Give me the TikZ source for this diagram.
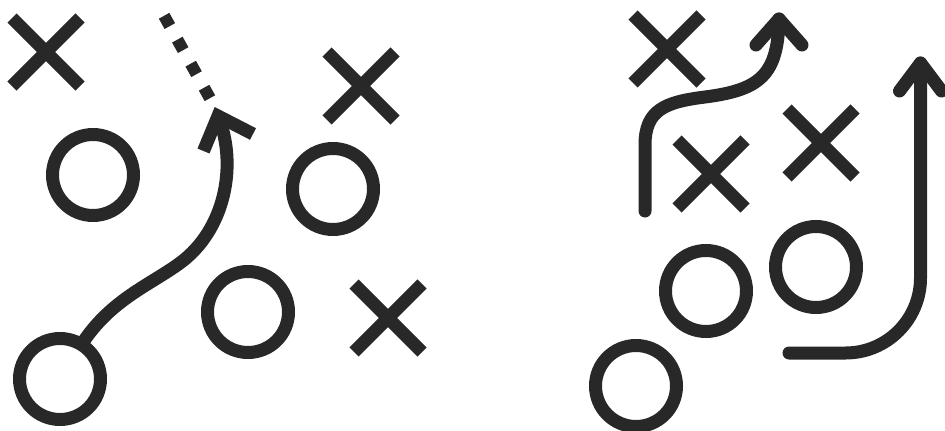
\documentclass[tikz,border=0pt]{standalone}
\usetikzlibrary{shapes.misc}
\definecolor{ink}{RGB}{40,40,40}
\begin{document}
\begin{tikzpicture}[x=1pt,y=-1pt,
  ring/.style={circle,draw=ink,line width=13pt,minimum size=81pt,inner sep=0pt,outer sep=0pt},
  cross/.style={cross out,draw=ink,line width=13pt,minimum size=68pt,inner sep=0pt,outer sep=0pt},
  sharpline/.style={draw=ink,line width=13pt,line cap=butt,line join=miter},
  roundline/.style={draw=ink,line width=13pt,line cap=round,line join=round},
  dotline/.style={draw=ink,line width=12pt,line cap=butt,dash pattern=on 12pt off 15.5pt}]
\useasboundingbox (0,0) rectangle (945,431);
\clip (0,0) rectangle (945,431);
% left play
\node[cross] (x1) at (46,52) {};
\node[cross] (x2) at (361,86) {};
\node[cross] (x3) at (388,318) {};
\node[ring] (c1) at (93,175) {};
\node[ring] (c2) at (248,312) {};
\node[ring] (c3) at (333,189) {};
\node[ring] (c4) at (60,379) {};
\coordinate (tipA) at (218,116);
\coordinate (armA1) at (203.5,151);
\coordinate (armA2) at (253,134);
\coordinate (dotS) at (209.9,98.2);
\coordinate (dotE) at (164.1,15.8);
\path[sharpline] (c4.58) .. controls (110,300) and (150,285) .. (180,263)
  .. controls (225,230) and (238,165) .. (tipA);
\path[sharpline] (armA1) -- (tipA) -- (armA2);
\path[dotline] (dotS) -- (dotE);
% right play
\node[cross] (x4) at (667,49) {};
\node[cross] (x5) at (711,174) {};
\node[cross] (x6) at (821,143) {};
\node[ring] (c5) at (706,291) {};
\node[ring] (c6) at (816,267) {};
\node[ring] (c7) at (636,386) {};
\coordinate (startB) at (645,211);
\coordinate (tipB) at (779,19);
\coordinate (armB1) at (756,45);
\coordinate (armB2) at (802,45);
\path[roundline] (startB) -- (645,145) .. controls (645,110) and (665,102) .. (705,97)
  .. controls (760,90) and (778,75) .. (tipB);
\path[roundline] (armB1) -- (tipB) -- (armB2);
\coordinate (startC) at (789,353);
\coordinate (cornerC) at (920.5,353);
\coordinate (tipC) at (920.5,63);
\coordinate (armC1) at (899.5,91);
\coordinate (armC2) at (941.5,91);
\path[roundline,rounded corners=75pt] (startC) -- (cornerC) -- (tipC);
\path[roundline] (armC1) -- (tipC) -- (armC2);
\end{tikzpicture}
\end{document}
